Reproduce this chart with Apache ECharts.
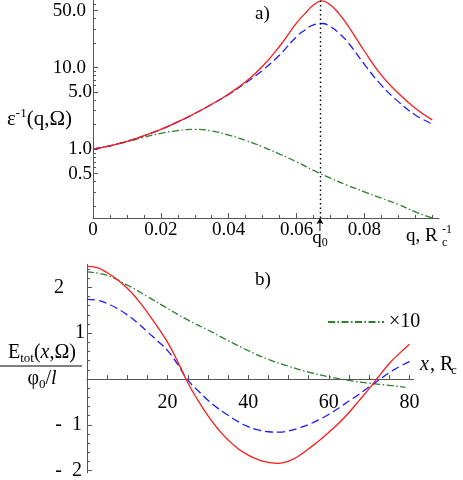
<!DOCTYPE html>
<html>
<head>
<meta charset="utf-8">
<script src="https://cdn.jsdelivr.net/npm/echarts@6/dist/echarts.min.js"></script>
<style>
  html, body { margin: 0; padding: 0; background: #fff; }
  #chart { width: 463px; height: 480px; }
</style>
</head>
<body>
<div id="chart"></div>
<script>
// a) inverse dielectric function vs q
const qA = [0, 0.005, 0.01, 0.015, 0.02, 0.025, 0.03, 0.035, 0.04, 0.045, 0.05, 0.055, 0.06, 0.0625, 0.065, 0.0675, 0.07, 0.0725, 0.075, 0.08, 0.085, 0.09, 0.095, 0.1];
const redA = [1.0, 1.1, 1.25, 1.46, 1.75, 2.16, 2.74, 3.55, 4.76, 6.73, 10.4, 18.3, 35.4, 46, 58.7, 66, 58.7, 46, 33.4, 16, 8.1, 4.86, 3.18, 2.29];
const blueA = [1.0, 1.1, 1.25, 1.46, 1.75, 2.16, 2.74, 3.55, 4.7, 6.5, 9.3, 14.3, 24, 29, 33.5, 34.8, 31.8, 26.5, 20.8, 11, 6.1, 3.83, 2.63, 2.04];
const qGreenA = [0, 0.005, 0.01, 0.015, 0.02, 0.025, 0.03, 0.035, 0.04, 0.045, 0.05, 0.055, 0.06, 0.065, 0.07, 0.075, 0.08, 0.085, 0.09, 0.095, 0.1];
const greenA = [1.0, 1.1, 1.23, 1.4, 1.56, 1.69, 1.75, 1.67, 1.49, 1.28, 1.07, 0.87, 0.7, 0.55, 0.44, 0.36, 0.3, 0.25, 0.21, 0.17, 0.143];
const q0 = 0.0669;

// b) total field vs x
const xB = [0, 2.5, 5, 7.5, 10, 12.5, 15, 17.5, 20, 22.5, 25, 27.5, 30, 32.5, 35, 37.5, 40, 42.5, 45, 47.5, 50, 52.5, 55, 57.5, 60, 62.5, 65, 67.5, 70, 72.5, 75, 77.5, 80];
const redB = [2.46, 2.43, 2.32, 2.17, 1.98, 1.74, 1.45, 1.14, 0.8, 0.38, -0.08, -0.46, -0.8, -1.09, -1.33, -1.52, -1.66, -1.76, -1.82, -1.84, -1.79, -1.68, -1.52, -1.35, -1.16, -0.96, -0.73, -0.47, -0.21, 0.07, 0.34, 0.56, 0.76];
const blueB = [1.74, 1.72, 1.65, 1.54, 1.4, 1.23, 1.03, 0.83, 0.62, 0.32, -0.02, -0.25, -0.46, -0.64, -0.79, -0.93, -1.04, -1.11, -1.15, -1.16, -1.13, -1.07, -0.99, -0.89, -0.77, -0.63, -0.48, -0.33, -0.17, -0.02, 0.14, 0.27, 0.38];
const xGreenB = [0, 5, 10, 15, 20, 25, 30, 35, 40, 45, 50, 55, 60, 65, 70, 75, 79];
const greenB = [2.34, 2.26, 2.05, 1.8, 1.54, 1.29, 1.07, 0.84, 0.62, 0.43, 0.28, 0.15, 0.05, -0.03, -0.09, -0.14, -0.18];

// ticks
const labelsXA = [0, 0.02, 0.04, 0.06, 0.08];
const minorXA = [0.005, 0.01, 0.015, 0.025, 0.03, 0.035, 0.045, 0.05, 0.055, 0.065, 0.07, 0.075, 0.085, 0.09, 0.095, 0.1];
const labelsYA = [0.5, 1, 5, 10, 50];
const minorYA = [0.2, 0.3, 0.4, 0.6, 0.7, 0.8, 0.9, 2, 3, 4, 6, 7, 8, 9, 20, 30, 40, 60];
const labelsXB = [20, 40, 60, 80];
const ticksXB = [5, 10, 15, 20, 25, 30, 35, 40, 45, 50, 55, 60, 65, 70, 75, 80];
const labelsYB = [-2, -1, 1, 2];
const minorYB = [-1.8, -1.6, -1.4, -1.2, -0.8, -0.6, -0.4, -0.2, 0.2, 0.4, 0.6, 0.8, 1.2, 1.4, 1.6, 1.8, 2.2, 2.4];

const serif = 'Liberation Serif';
const axisColor = '#555';
const yMinA = 0.143, yMaxA = 67.6;
const yMinB = -2.05, yMaxB = 2.5, gridBHeight = 208.5;
const pairs = (xs, ys) => xs.map((x, i) => [x, ys[i]]);
const lineOf = (color, type) => ({ color: color, width: 1.3, type: type });

const chart = echarts.init(document.getElementById('chart'));

const option = {
  animation: false,
  backgroundColor: '#fff',
  grid: [
    { left: 93, top: 0, width: 346, height: 218, outerBoundsMode: 'none' },
    { left: 87, top: 264.5, width: 326.5, height: gridBHeight, outerBoundsMode: 'none' }
  ],
  legend: {
    data: ['×10'],
    left: 322, top: 307,
    itemWidth: 56, itemHeight: 14, itemGap: 0,
    itemStyle: { opacity: 0 },
    textStyle: { fontFamily: serif, fontSize: 20, color: '#000' }
  },
  xAxis: [
    {
      gridIndex: 0, type: 'value', min: 0, max: 0.102, position: 'bottom',
      axisLine: { onZero: false, lineStyle: { color: axisColor } },
      splitLine: { show: false },
      axisTick: { inside: true, length: 5, customValues: labelsXA, lineStyle: { color: axisColor } },
      axisLabel: {
        customValues: labelsXA, margin: 3, color: '#000', fontFamily: serif, fontSize: 19,
        formatter: v => v === 0 ? '0' : v.toFixed(2)
      }
    },
    {
      gridIndex: 0, type: 'value', min: 0, max: 0.102, position: 'bottom',
      axisLine: { show: false, onZero: false },
      splitLine: { show: false },
      axisLabel: { show: false },
      axisTick: { inside: true, length: 3, customValues: minorXA, lineStyle: { color: axisColor } }
    },
    {
      // x axis of b) sits on y = 0
      gridIndex: 1, type: 'value', min: 0, max: 81, position: 'bottom',
      offset: -(0 - yMinB) / (yMaxB - yMinB) * gridBHeight,
      axisLine: { onZero: false, lineStyle: { color: axisColor } },
      splitLine: { show: false },
      axisTick: { inside: true, length: 4, customValues: ticksXB, lineStyle: { color: axisColor } },
      axisLabel: { customValues: labelsXB, margin: 14, color: '#000', fontFamily: serif, fontSize: 20 }
    }
  ],
  yAxis: [
    {
      gridIndex: 0, type: 'log', logBase: 10, min: yMinA, max: yMaxA, position: 'left',
      axisLine: { onZero: false, lineStyle: { color: axisColor } },
      splitLine: { show: false },
      axisTick: { inside: true, length: 5, customValues: labelsYA, lineStyle: { color: axisColor } },
      axisLabel: {
        customValues: labelsYA, margin: 1, color: '#000', fontFamily: serif, fontSize: 19,
        formatter: v => v >= 10 ? '{w|' + v.toFixed(1) + '}' : v.toFixed(1),
        rich: { w: { fontFamily: serif, fontSize: 19, padding: [0, 6, 0, 0] } }
      }
    },
    {
      gridIndex: 0, type: 'log', logBase: 10, min: yMinA, max: yMaxA, position: 'left',
      axisLine: { show: false, onZero: false },
      splitLine: { show: false },
      axisLabel: { show: false },
      axisTick: { inside: true, length: 3, customValues: minorYA, lineStyle: { color: axisColor } }
    },
    {
      gridIndex: 1, type: 'value', min: yMinB, max: yMaxB, position: 'left',
      axisLine: { onZero: false, lineStyle: { color: axisColor } },
      splitLine: { show: false },
      axisTick: { inside: true, length: 5, customValues: labelsYB, lineStyle: { color: axisColor } },
      axisLabel: {
        customValues: labelsYB, margin: 2, color: '#000', fontFamily: serif, fontSize: 20,
        formatter: v => {
          if (v === 2) return '{a|2}';
          if (v === 1) return '1';
          return '{b|-  ' + Math.abs(v) + '}';
        },
        rich: {
          a: { fontFamily: serif, fontSize: 20, padding: [0, 21, 0, 0] },
          b: { fontFamily: serif, fontSize: 20, padding: [0, 3, 0, 0] }
        }
      }
    },
    {
      gridIndex: 1, type: 'value', min: yMinB, max: yMaxB, position: 'left',
      axisLine: { show: false, onZero: false },
      splitLine: { show: false },
      axisLabel: { show: false },
      axisTick: { inside: true, length: 3, customValues: minorYB, lineStyle: { color: axisColor } }
    }
  ],
  series: [
    {
      name: 'green a', type: 'line', xAxisIndex: 0, yAxisIndex: 0, smooth: true, symbol: 'none',
      data: pairs(qGreenA, greenA), lineStyle: lineOf('#2f7f2f', [7, 2.5, 1.5, 2.5]),
      markPoint: {
        symbol: 'path://M3.5,0 L7,6 L4,5 L4,13 L3,13 L3,5 L0,6 Z',
        symbolSize: [7, 13], symbolOffset: [0, 6.5],
        itemStyle: { color: '#000' },
        label: {
          show: true, position: 'bottom', distance: -4, color: '#000',
          formatter: '{q|q}{s|0}',
          rich: {
            q: { fontFamily: serif, fontSize: 19, color: '#000' },
            s: { fontFamily: serif, fontSize: 12, color: '#000', padding: [10, 0, 0, 0] }
          }
        },
        data: [{ coord: [q0, yMinA] }]
      }
    },
    {
      name: 'blue a', type: 'line', xAxisIndex: 0, yAxisIndex: 0, smooth: true, symbol: 'none',
      data: pairs(qA, blueA), lineStyle: lineOf('#1a1aff', [8, 4])
    },
    {
      name: 'red a', type: 'line', xAxisIndex: 0, yAxisIndex: 0, smooth: true, symbol: 'none',
      data: pairs(qA, redA), lineStyle: lineOf('#ff1a1a', 'solid'),
      markLine: {
        silent: true, symbol: 'none', label: { show: false },
        lineStyle: { color: '#000', width: 1.4, type: [1.5, 3] },
        data: [[{ coord: [q0, yMinA] }, { coord: [q0, yMaxA] }]]
      }
    },
    {
      name: '×10', type: 'line', xAxisIndex: 2, yAxisIndex: 2, smooth: true, symbol: 'none',
      data: pairs(xGreenB, greenB), color: '#2f7f2f', lineStyle: lineOf('#2f7f2f', [7, 2.5, 1.5, 2.5])
    },
    {
      name: 'blue b', type: 'line', xAxisIndex: 2, yAxisIndex: 2, smooth: true, symbol: 'none',
      data: pairs(xB, blueB), lineStyle: lineOf('#1a1aff', [8, 4])
    },
    {
      name: 'red b', type: 'line', xAxisIndex: 2, yAxisIndex: 2, smooth: true, symbol: 'none',
      data: pairs(xB, redB), lineStyle: lineOf('#ff1a1a', 'solid')
    }
  ],
  graphic: [
    {
      type: 'text', x: 7, y: 119,
      style: {
        text: '{n|ε}{p|-1}{n|(q,Ω)}', fill: '#000', textVerticalAlign: 'middle',
        rich: {
          n: { fontFamily: serif, fontSize: 21, lineHeight: 24 },
          p: { fontFamily: serif, fontSize: 13, verticalAlign: 'top', lineHeight: 14 }
        }
      }
    },
    { type: 'text', x: 255, y: 14, style: { text: 'a)', fill: '#000', font: '19px "Liberation Serif"', textVerticalAlign: 'middle' } },
    { type: 'text', x: 406, y: 236, style: { text: 'q, R', fill: '#000', font: '19px "Liberation Serif"', textVerticalAlign: 'middle' } },
    { type: 'text', x: 442, y: 230, style: { text: '-1', fill: '#000', font: '12px "Liberation Serif"', textVerticalAlign: 'middle' } },
    { type: 'text', x: 442, y: 243, style: { text: 'c', fill: '#000', font: '12px "Liberation Serif"', textVerticalAlign: 'middle' } },
    { type: 'text', x: 255, y: 280, style: { text: 'b)', fill: '#000', font: '19px "Liberation Serif"', textVerticalAlign: 'middle' } },
    { type: 'text', x: 420, y: 365, style: { text: 'x', fill: '#000', font: 'italic 20px "Liberation Serif"', textVerticalAlign: 'middle' } },
    { type: 'text', x: 430, y: 365, style: { text: ', R', fill: '#000', font: '20px "Liberation Serif"', textVerticalAlign: 'middle' } },
    { type: 'text', x: 451, y: 371, style: { text: 'c', fill: '#000', font: '13px "Liberation Serif"', textVerticalAlign: 'middle' } },
    {
      type: 'text', x: 42, y: 353,
      style: {
        text: '{n|E}{s|tot}{n|(}{i|x}{n|,Ω)}', fill: '#000', textAlign: 'center', textVerticalAlign: 'middle',
        rich: {
          n: { fontFamily: serif, fontSize: 20, lineHeight: 24 },
          i: { fontFamily: serif, fontSize: 20, fontStyle: 'italic', lineHeight: 24 },
          s: { fontFamily: serif, fontSize: 13, verticalAlign: 'bottom', lineHeight: 16 }
        }
      }
    },
    { type: 'line', shape: { x1: 0, y1: 366, x2: 82, y2: 366 }, style: { stroke: '#000', lineWidth: 1 } },
    {
      type: 'text', x: 42, y: 379,
      style: {
        text: '{n|φ}{s|0}{n|/}{i|l}', fill: '#000', textAlign: 'center', textVerticalAlign: 'middle',
        rich: {
          n: { fontFamily: serif, fontSize: 20, lineHeight: 24 },
          i: { fontFamily: serif, fontSize: 20, fontStyle: 'italic', lineHeight: 24 },
          s: { fontFamily: serif, fontSize: 13, verticalAlign: 'bottom', lineHeight: 16 }
        }
      }
    }
  ]
};

chart.setOption(option);
</script>
</body>
</html>
